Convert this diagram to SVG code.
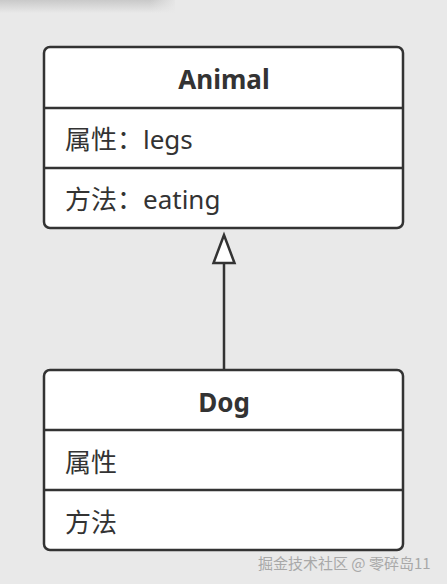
<svg xmlns="http://www.w3.org/2000/svg" width="447" height="584" viewBox="0 0 447 584">
<style>
.box{fill:#ffffff;stroke:#333333;stroke-width:2.5}
.div{stroke:#333333;stroke-width:2.5}
.title{font-family:"Noto Sans","Noto Sans CJK SC",sans-serif;font-weight:bold;font-size:26px;fill:#333333;text-anchor:middle}
.txt{font-family:"Noto Sans","Noto Sans CJK SC",sans-serif;font-size:26px;fill:#333333}
.wm{font-family:"Noto Sans CJK SC",sans-serif;font-size:15px;fill:#a8a8a8}
.edge{stroke:#333333;stroke-width:2.5;fill:none}
</style>
<defs>
<linearGradient id="sh" x1="0" y1="0" x2="0" y2="1">
<stop offset="0" stop-color="#c9c9c9"/>
<stop offset="1" stop-color="#e9e9e9"/>
</linearGradient>
<linearGradient id="shx" x1="0" y1="0" x2="1" y2="0">
<stop offset="0" stop-color="#e9e9e9" stop-opacity="0"/>
<stop offset="1" stop-color="#e9e9e9" stop-opacity="1"/>
</linearGradient>
</defs>
<rect x="0" y="0" width="447" height="584" fill="#e9e9e9"/>
<rect x="0" y="0" width="175" height="13" fill="url(#sh)"/>
<rect x="150" y="0" width="28" height="13" fill="url(#shx)"/>
<g id="connectors">
<line class="edge" x1="224" y1="370" x2="224" y2="263"/>
<polygon class="edge" points="224,235 213.5,263 234.5,263" style="fill:#ffffff"/>
</g>
<g id="animal">
<rect class="box" x="44" y="47" width="359" height="181" rx="6"/>
<line class="div" x1="44" y1="108" x2="403" y2="108"/>
<line class="div" x1="44" y1="168" x2="403" y2="168"/>
<text class="title" x="224" y="89">Animal</text>
<text class="txt" x="65" y="149">属性：legs</text>
<text class="txt" x="65" y="209">方法：eating</text>
</g>
<g id="dog">
<rect class="box" x="44" y="370" width="359" height="180" rx="6"/>
<line class="div" x1="44" y1="430" x2="403" y2="430"/>
<line class="div" x1="44" y1="490" x2="403" y2="490"/>
<text class="title" x="224" y="412">Dog</text>
<text class="txt" x="65" y="472">属性</text>
<text class="txt" x="65" y="532">方法</text>
</g>
<text class="wm" x="258" y="569">掘金技术社区 @ 零碎岛11</text>
</svg>
